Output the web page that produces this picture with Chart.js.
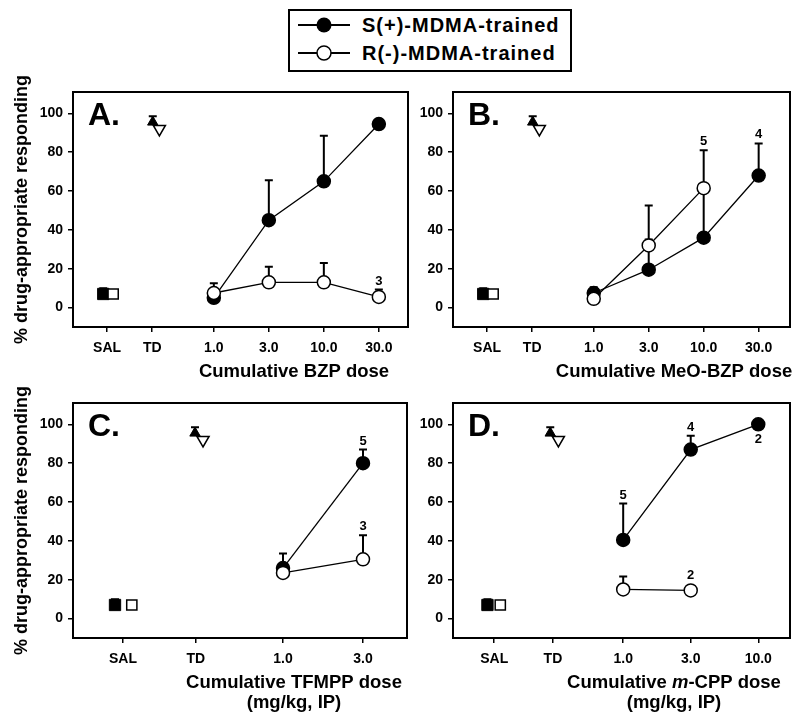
<!DOCTYPE html>
<html>
<head>
<meta charset="utf-8">
<title>MDMA discrimination - piperazines</title>
<script src="https://cdn.jsdelivr.net/npm/chart.js@4.4.1/dist/chart.umd.min.js"></script>
<style>
  body { margin: 0; background: #fff; }
  #wrap { position: relative; width: 800px; height: 720px; overflow: hidden; }
  #wrap canvas { position: absolute; left: 0; top: 0; }
  .legend {
    position: absolute; left: 288px; top: 9px; width: 280px; height: 59px;
    border: 2px solid #000; background: #fff;
    font: bold 20px 'Liberation Sans', Arial, sans-serif; letter-spacing: 1px; color: #000;
  }
  .legend .row { position: absolute; left: 8px; height: 24px; display: flex; align-items: center; }
  .legend svg { margin-right: 12px; }
</style>
</head>
<body>
<div id="wrap">
  <canvas id="pA" width="800" height="720"></canvas>
  <canvas id="pB" width="800" height="720"></canvas>
  <canvas id="pC" width="800" height="720"></canvas>
  <canvas id="pD" width="800" height="720"></canvas>
  <div class="legend">
    <div class="row" style="top:2px">
      <svg width="52" height="18"><line x1="0" y1="9" x2="52" y2="9" stroke="#000" stroke-width="2"/><circle cx="26" cy="9" r="7.5" fill="#000"/></svg>
      <span>S(+)-MDMA-trained</span>
    </div>
    <div class="row" style="top:30px">
      <svg width="52" height="18"><line x1="0" y1="9" x2="52" y2="9" stroke="#000" stroke-width="2"/><circle cx="26" cy="9" r="7" fill="#fff" stroke="#000" stroke-width="1.5"/></svg>
      <span>R(-)-MDMA-trained</span>
    </div>
  </div>
</div>
<script>
// ===== DATA =====
const yTicks = [0, 20, 40, 60, 80, 100];
const ctrlLabels = ['SAL', 'TD'];

// control sessions (saline, training drug), same in every panel
const ctrlS = [7, 95.5];
const ctrlSsem = [3, 3];
const ctrlR = [7, 92];
const ctrlRsem = [1, 0];

// A. BZP
const bzpDoses = ['1.0', '3.0', '10.0', '30.0'];
const bzpS = [5, 45, 65, 94.5];
const bzpSsem = [0, 20.5, 23.5, 2.5];
const bzpR = [7.5, 13, 13, 5.5];
const bzpRsem = [5, 8, 10, 3.8];
const bzpN = [{ set: 'R', i: 3, text: '3', at: 'above' }];

// B. MeO-BZP
const meoDoses = ['1.0', '3.0', '10.0', '30.0'];
const meoS = [7.5, 19.5, 36, 68];
const meoSsem = [3, 15.5, 24, 16.5];
const meoR = [4.5, 32, 61.5, null];
const meoRsem = [2, 20.5, 19.5, 0];
const meoN = [{ set: 'R', i: 2, text: '5', at: 'above' }, { set: 'S', i: 3, text: '4', at: 'above' }];

// C. TFMPP
const tfmppDoses = ['1.0', '3.0'];
const tfmppS = [26, 80];
const tfmppSsem = [7.5, 7];
const tfmppR = [23.5, 30.5];
const tfmppRsem = [0, 12.4];
const tfmppN = [{ set: 'S', i: 1, text: '5', at: 'above' }, { set: 'R', i: 1, text: '3', at: 'above' }];

// D. m-CPP
const mcppDoses = ['1.0', '3.0', '10.0'];
const mcppS = [40.5, 87, 100];
const mcppSsem = [18.7, 7.2, 0];
const mcppR = [15, 14.5, null];
const mcppRsem = [6.7, 0, 0];
const mcppN = [
  { set: 'S', i: 0, text: '5', at: 'above' }, { set: 'S', i: 1, text: '4', at: 'above' },
  { set: 'S', i: 2, text: '2', at: 'below' }, { set: 'R', i: 1, text: '2', at: 'above' }
];

const FONT = "'Liberation Sans', Arial, Helvetica, sans-serif";
const Y_TITLE = '% drug-appropriate responding';

Chart.defaults.font.family = FONT;
Chart.defaults.font.weight = 'bold';
Chart.defaults.color = '#000';

// ===== PLUGINS =====
const errorBars = {
  id: 'errorBars',
  beforeDatasetsDraw(chart) {
    const { ctx, scales: { x, y } } = chart;
    ctx.save();
    ctx.strokeStyle = '#000';
    ctx.lineWidth = 2;
    chart.data.datasets.forEach(ds => ds.data.forEach(p => {
      if (!p.sem) return;
      const px = x.getPixelForValue(p.x);
      const y0 = y.getPixelForValue(p.y);
      const y1 = y.getPixelForValue(p.y + p.sem);
      ctx.beginPath();
      ctx.moveTo(px, y0); ctx.lineTo(px, y1);
      ctx.moveTo(px - 4, y1); ctx.lineTo(px + 4, y1);
      ctx.stroke();
    }));
    ctx.restore();
  }
};

function drawRich(ctx, line, cx, y, size) {
  const parts = line.split('*');
  const fonts = parts.map((_, k) => (k % 2 ? 'italic ' : '') + 'bold ' + size + 'px ' + FONT);
  let total = 0;
  const widths = parts.map((p, k) => { ctx.font = fonts[k]; const w = ctx.measureText(p).width; total += w; return w; });
  let x = cx - total / 2;
  ctx.textAlign = 'left';
  parts.forEach((p, k) => { ctx.font = fonts[k]; ctx.fillText(p, x, y); x += widths[k]; });
}

const panelDeco = {
  id: 'panelDeco',
  afterDraw(chart, args, opts) {
    const { ctx, chartArea: a, scales: { x, y } } = chart;
    ctx.save();
    // frame
    ctx.strokeStyle = '#000';
    ctx.lineWidth = 2;
    ctx.strokeRect(a.left, a.top, a.right - a.left, a.bottom - a.top);
    ctx.fillStyle = '#000';
    // panel letter
    ctx.font = 'bold 32px ' + FONT;
    ctx.textAlign = 'left';
    ctx.textBaseline = 'alphabetic';
    ctx.fillText(opts.letter, a.left + 15, a.top + 33);
    // n labels
    ctx.font = 'bold 13px ' + FONT;
    ctx.textAlign = 'center';
    (opts.notes || []).forEach(n => {
      const ds = chart.data.datasets.find(d => d.key === n.set);
      const p = ds.data.find(d => d.i === n.i);
      const px = x.getPixelForValue(p.x);
      const py = y.getPixelForValue(p.y);
      let ty;
      if (n.at === 'below') ty = py + 19;
      else ty = Math.min(y.getPixelForValue(p.y + (p.sem || 0)) - 5, py - 11);
      ctx.fillText(n.text, px, ty);
    });
    // x caption
    ctx.textBaseline = 'middle';
    opts.caption.forEach((line, k) => drawRich(ctx, line, a.left + 221, a.bottom + 45 + k * 20, 18.5));
    ctx.restore();
  }
};

// ===== PANELS =====
function points(pos, vals, sems) {
  return pos.map((x, i) => ({ x, y: vals[i], sem: sems[i], i })).filter(p => p.y != null);
}

function makePanel(p) {
  const [l, t, r, b] = p.area;
  const tickPos = p.ctrlPos.concat(p.dosePos);
  const tickLabels = ctrlLabels.concat(p.doses);
  const line = { borderColor: '#000', borderWidth: 1.3, showLine: true, pointRadius: 6.5, pointBorderColor: '#000', pointBorderWidth: 1.5 };
  new Chart(document.getElementById(p.id), {
    type: 'scatter',
    data: {
      datasets: [
        { key: 'R', ...line, data: points(p.dosePos, p.R, p.Rsem), pointBackgroundColor: '#fff' },
        { key: 'S', ...line, data: points(p.dosePos, p.S, p.Ssem), pointBackgroundColor: '#000' },
        { key: 'Rc', showLine: false, data: points(p.ctrlPos.map((v, i) => v + p.offR[i]), ctrlR, ctrlRsem),
          pointStyle: ['rect', 'triangle'], pointRotation: [0, 180], pointRadius: [7.2, 7],
          pointBackgroundColor: '#fff', pointBorderColor: '#000', pointBorderWidth: 1.5 },
        { key: 'Sc', showLine: false, data: points(p.ctrlPos.map((v, i) => v + p.offS[i]), ctrlS, ctrlSsem),
          pointStyle: ['rect', 'triangle'], pointRadius: [8, 6],
          pointBackgroundColor: '#000', pointBorderColor: '#000', pointBorderWidth: 1 }
      ]
    },
    options: {
      responsive: false,
      animation: false,
      devicePixelRatio: 1,
      layout: { padding: { left: l - 73, top: t, right: 800 - r, bottom: 720 - b - 40 } },
      plugins: {
        legend: { display: false },
        tooltip: { enabled: false },
        panelDeco: { letter: p.letter, caption: p.caption, notes: p.notes }
      },
      scales: {
        x: {
          type: 'linear', min: p.xMin, max: p.xMax,
          afterBuildTicks: s => { s.ticks = tickPos.map(v => ({ value: v })); },
          afterFit: s => { s.height = 40; },
          ticks: { autoSkip: false, maxRotation: 0, padding: 8, font: { size: 14, weight: 'bold' },
                   callback: (v, i) => tickLabels[i] },
          grid: { drawOnChartArea: false, drawTicks: true, tickLength: 5, color: '#000', lineWidth: 1.5 },
          border: { display: false }
        },
        y: {
          min: -10, max: 111,
          afterBuildTicks: s => { s.ticks = yTicks.map(v => ({ value: v })); },
          afterFit: s => { s.width = 73; },
          ticks: { padding: 5, font: { size: 14, weight: 'bold' } },
          grid: { drawOnChartArea: false, drawTicks: true, tickLength: 5, color: '#000', lineWidth: 1.5 },
          border: { display: false },
          title: { display: p.yTitle, text: Y_TITLE, font: { size: 18, weight: 'bold' }, padding: { top: 11, bottom: 0 } }
        }
      }
    },
    plugins: [errorBars, panelDeco]
  });
}

makePanel({ id: 'pA', letter: 'A.', area: [73, 92, 408, 327], xMin: -0.56, xMax: 5.53,
  ctrlPos: [0.06, 0.88], dosePos: [2, 3, 4, 5], offS: [-0.07, 0.01], offR: [0.11, 0.13],
  doses: bzpDoses, S: bzpS, Ssem: bzpSsem, R: bzpR, Rsem: bzpRsem, notes: bzpN,
  caption: ['Cumulative BZP dose'], yTitle: true });

makePanel({ id: 'pB', letter: 'B.', area: [453, 92, 790, 327], xMin: -0.56, xMax: 5.57,
  ctrlPos: [0.06, 0.88], dosePos: [2, 3, 4, 5], offS: [-0.07, 0.01], offR: [0.11, 0.13],
  doses: meoDoses, S: meoS, Ssem: meoSsem, R: meoR, Rsem: meoRsem, notes: meoN,
  caption: ['Cumulative MeO-BZP dose'], yTitle: false });

makePanel({ id: 'pC', letter: 'C.', area: [73, 403, 407, 638], xMin: -0.625, xMax: 3.55,
  ctrlPos: [0, 0.91], dosePos: [2, 3], offS: [-0.1, -0.01], offR: [0.11, 0.09],
  doses: tfmppDoses, S: tfmppS, Ssem: tfmppSsem, R: tfmppR, Rsem: tfmppRsem, notes: tfmppN,
  caption: ['Cumulative TFMPP dose', '(mg/kg, IP)'], yTitle: true });

makePanel({ id: 'pD', letter: 'D.', area: [453, 403, 790, 638], xMin: -0.52, xMax: 4.47,
  ctrlPos: [0.09, 0.96], dosePos: [2, 3, 4], offS: [-0.1, -0.04], offR: [0.09, 0.08],
  doses: mcppDoses, S: mcppS, Ssem: mcppSsem, R: mcppR, Rsem: mcppRsem, notes: mcppN,
  caption: ['Cumulative *m*-CPP dose', '(mg/kg, IP)'], yTitle: false });
</script>
</body>
</html>
